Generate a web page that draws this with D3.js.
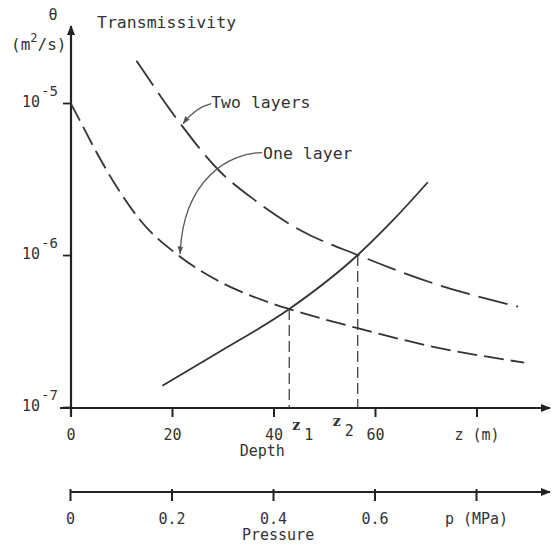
<!DOCTYPE html>
<html>
<head>
<meta charset="utf-8">
<script src="https://cdn.jsdelivr.net/npm/d3@7"></script>
<style>
  html, body { margin: 0; padding: 0; background: #fff; }
  svg { display: block; }
  text { font-family: "DejaVu Sans Mono", monospace; fill: #333; }
</style>
</head>
<body>
<svg id="chart" width="553" height="550"></svg>
<script>
// ---- data ----
const depthTicks = [0, 20, 40, 60, 80];
const pressureTicks = [0, 0.2, 0.4, 0.6, 0.8];
const transTicks = [1e-7, 1e-6, 1e-5];
const transTickExp = ["-7", "-6", "-5"];

// one layer (dashed)
const depthOne = [0, 1.9, 5.2, 9.1, 13.7, 21.6, 28.8, 38.7, 43.1, 56.6, 71.5, 89.4];
const transOne = [1e-5, 7.6e-6, 4.69e-6, 2.81e-6, 1.70e-6, 9.75e-7, 6.85e-7, 4.93e-7, 4.41e-7, 3.30e-7, 2.49e-7, 1.96e-7];
// two layers (long dashes)
const depthTwo = [13.0, 21.6, 29.5, 35.4, 45.2, 56.6, 71.5, 88.2];
const transTwo = [1.9e-5, 7.35e-6, 3.53e-6, 2.42e-6, 1.46e-6, 1.0e-6, 6.51e-7, 4.57e-7];
// solid rising curve
const depthRise = [18.1, 28.8, 43.1, 56.6, 63.6, 70.4];
const transRise = [1.38e-7, 2.25e-7, 4.41e-7, 1.0e-6, 1.70e-6, 3.01e-6];
// intersection depths
const zMarks = [43.1, 56.6];
const zMarkTrans = [4.41e-7, 1.0e-6];
const zMarkLabels = ["1", "2"];

// ---- layout ----
const svg = d3.select("#chart");
const ink = "#222";
const x = d3.scaleLinear().domain([0, 80]).range([70.5, 476.5]);
const p = d3.scaleLinear().domain([0, 0.8]).range([70, 476]);
const y = d3.scaleLog().domain([1e-7, 1e-5]).range([407, 103]);
const axisY = 408;
const pAxisY = 492;
const yAxisX = 71;

// arrow markers
const defs = svg.append("defs");
defs.append("marker").attr("id", "ah").attr("viewBox", "0 0 10 10")
  .attr("refX", 9).attr("refY", 5).attr("markerWidth", 10).attr("markerHeight", 10)
  .attr("markerUnits", "userSpaceOnUse").attr("orient", "auto")
  .append("path").attr("d", "M0,1 L10,5 L0,9 Z").attr("fill", ink);
defs.append("marker").attr("id", "ahs").attr("viewBox", "0 0 10 10")
  .attr("refX", 9).attr("refY", 5).attr("markerWidth", 8).attr("markerHeight", 8)
  .attr("markerUnits", "userSpaceOnUse").attr("orient", "auto")
  .append("path").attr("d", "M0,1.5 L10,5 L0,8.5 Z").attr("fill", "#555");

// ---- depth axis ----
const gx = svg.append("g").attr("transform", `translate(0,${axisY})`)
  .call(d3.axisBottom(x).tickValues(depthTicks).tickSize(9).tickPadding(12)
    .tickFormat(d => d === 80 ? "z (m)" : d));
gx.select(".domain").remove();
gx.selectAll(".tick line").attr("stroke", ink).attr("stroke-width", 2);
gx.selectAll(".tick text").style("font-size", "15px").style("font-family", "DejaVu Sans Mono").attr("fill", "#333");
svg.append("line").attr("x1", 60).attr("x2", 550).attr("y1", axisY).attr("y2", axisY)
  .attr("stroke", ink).attr("stroke-width", 2).attr("marker-end", "url(#ah)");
svg.append("text").attr("x", x(37.8)).attr("y", 456).attr("text-anchor", "middle")
  .style("font-size", "15px").text("Depth");

// ---- pressure axis ----
const gp = svg.append("g").attr("transform", `translate(0,${pAxisY})`)
  .call(d3.axisBottom(p).tickValues(pressureTicks).tickSize(9).tickPadding(12)
    .tickFormat(d => d === 0.8 ? "p (MPa)" : (d === 0 ? "0" : d3.format(".1f")(d))));
gp.select(".domain").remove();
gp.selectAll(".tick line").attr("stroke", ink).attr("stroke-width", 2).attr("y1", -3);
gp.selectAll(".tick text").style("font-size", "15px").style("font-family", "DejaVu Sans Mono").attr("fill", "#333");
svg.append("line").attr("x1", p(0)).attr("x2", 550).attr("y1", pAxisY).attr("y2", pAxisY)
  .attr("stroke", ink).attr("stroke-width", 2).attr("marker-end", "url(#ah)");
svg.append("text").attr("x", p(0.41)).attr("y", 540).attr("text-anchor", "middle")
  .style("font-size", "15px").text("Pressure");

// ---- transmissivity axis ----
svg.append("line").attr("x1", yAxisX).attr("x2", yAxisX).attr("y1", 416).attr("y2", 26)
  .attr("stroke", ink).attr("stroke-width", 2.2).attr("marker-end", "url(#ah)");
const gy = svg.append("g").attr("transform", `translate(${yAxisX},0)`)
  .call(d3.axisLeft(y).tickValues(transTicks).tickSize(8).tickFormat(""));
gy.select(".domain").remove();
gy.selectAll(".tick line").attr("stroke", ink).attr("stroke-width", 1.8);
transTicks.forEach((t, i) => {
  svg.append("text").attr("x", 40).attr("y", y(t) + 4)
    .attr("text-anchor", "end").style("font-size", "15px").text("10");
  svg.append("text").attr("x", 41).attr("y", y(t) - 7)
    .style("font-size", "14px").text(transTickExp[i]);
});
svg.append("text").attr("x", 53).attr("y", 20).attr("text-anchor", "middle")
  .style("font-size", "15px").text("θ");
const unit = svg.append("text").attr("x", 11).attr("y", 50).style("font-size", "16px");
unit.append("tspan").text("(m");
unit.append("tspan").attr("dy", -8).style("font-size", "12px").text("2");
unit.append("tspan").attr("dy", 8).text("/s)");
svg.append("text").attr("x", 97).attr("y", 28).style("font-size", "16.5px").text("Transmissivity");

// ---- curves ----
const line = d3.line().x(d => x(d[0])).y(d => y(d[1])).curve(d3.curveMonotoneX);
svg.append("path").datum(d3.zip(depthOne, transOne)).attr("d", line)
  .attr("fill", "none").attr("stroke", "#333").attr("stroke-width", 1.8)
  .attr("stroke-dasharray", "20,7");
svg.append("path").datum(d3.zip(depthTwo, transTwo)).attr("d", line)
  .attr("fill", "none").attr("stroke", "#333").attr("stroke-width", 1.8)
  .attr("stroke-dasharray", "30,9");
svg.append("path").datum(d3.zip(depthRise, transRise)).attr("d", line)
  .attr("fill", "none").attr("stroke", "#333").attr("stroke-width", 1.8);

// intersection drop lines and labels
zMarks.forEach((z, i) => {
  svg.append("line").attr("x1", x(z)).attr("x2", x(z)).attr("y1", y(zMarkTrans[i])).attr("y2", axisY)
    .attr("stroke", "#333").attr("stroke-width", 1.2).attr("stroke-dasharray", "11,5");
  const lx = i === 0 ? x(z) + 3 : x(z) - 25;
  const ly = i === 0 ? 430 : 426;
  svg.append("text").attr("x", lx).attr("y", ly)
    .style("font-family", "DejaVu Serif").style("font-weight", "bold").style("font-size", "14px").text("z");
  svg.append("text").attr("x", lx + 12).attr("y", ly + 10)
    .style("font-size", "15px").text(zMarkLabels[i]);
});

// ---- annotations ----
const tipTwo = [x(22.2), y(7.0e-6) - 3];
svg.append("path")
  .attr("d", `M${tipTwo[0] + 28},${tipTwo[1] - 20} Q${tipTwo[0] + 12},${tipTwo[1] - 16} ${tipTwo[0]},${tipTwo[1]}`)
  .attr("fill", "none").attr("stroke", "#555").attr("stroke-width", 1.3).attr("marker-end", "url(#ahs)");
svg.append("text").attr("x", tipTwo[0] + 28).attr("y", tipTwo[1] - 16).style("font-size", "16.5px").text("Two layers");

const tipOne = [x(21.6), y(9.75e-7) - 3];
svg.append("path")
  .attr("d", `M${tipOne[0] + 82},${tipOne[1] - 101} C${tipOne[0] + 50},${tipOne[1] - 101} ${tipOne[0] + 3},${tipOne[1] - 75} ${tipOne[0]},${tipOne[1]}`)
  .attr("fill", "none").attr("stroke", "#555").attr("stroke-width", 1.3).attr("marker-end", "url(#ahs)");
svg.append("text").attr("x", tipOne[0] + 83).attr("y", tipOne[1] - 95).style("font-size", "16.5px").text("One layer");
</script>
</body>
</html>
